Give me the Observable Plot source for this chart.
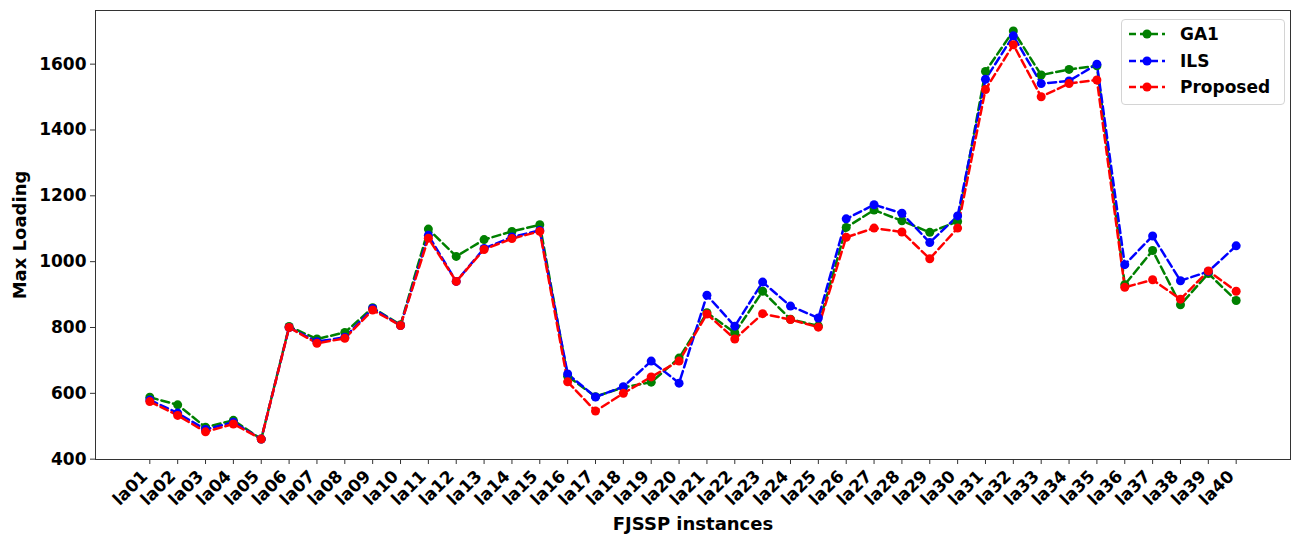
<!DOCTYPE html>
<html>
<head>
<meta charset="utf-8">
<script src="https://cdn.jsdelivr.net/npm/d3@7"></script>
<script src="https://cdn.jsdelivr.net/npm/@observablehq/plot@0.6"></script>
<style>
  html, body { margin: 0; padding: 0; background: #fff; }
  #wrap { position: relative; width: 1300px; height: 537px; font-family: "DejaVu Sans", sans-serif; }
  #legend { position: absolute; left: 1121px; top: 19px; width: 164px; height: 86px; border: 1px solid #d4d4d4; border-radius: 4px; background: rgba(255,255,255,0.85); box-sizing: border-box; padding-top: 1px; }
  .row { display: flex; align-items: center; height: 26.5px; font-weight: bold; font-size: 17px; color: #000; }
  .row svg { margin-left: 6px; margin-right: 14px; }
</style>
</head>
<body>
<div id="wrap"></div>
<script>
const instances = Array.from({length: 40}, (_, i) => "la" + String(i + 1).padStart(2, "0"));
const seriesNames = ["GA1", "ILS", "Proposed"];
const seriesColors = ["#008000", "#0000ff", "#ff0000"];
const GA1 = [588,565,497,518,461,803,765,785,860,808,1099,1016,1067,1092,1112,652,590,618,634,707,845,784,910,825,805,1104,1157,1124,1089,1122,1578,1701,1567,1584,1595,930,1034,869,964,882];
const ILS = [580,540,490,512,461,800,757,770,858,806,1080,940,1040,1075,1095,659,589,620,698,631,898,804,938,865,829,1130,1173,1147,1058,1139,1554,1686,1541,1549,1600,991,1078,942,970,1048];
const Proposed = [575,533,483,507,461,800,752,767,853,806,1071,940,1037,1070,1092,635,546,600,650,698,841,765,842,824,801,1074,1102,1090,1009,1102,1523,1659,1501,1541,1552,922,945,886,972,910];
const yTicks = [400, 600, 800, 1000, 1200, 1400, 1600];

const valuesBySeries = [GA1, ILS, Proposed];
const data = [];
seriesNames.forEach((s, si) => {
  valuesBySeries[si].forEach((v, i) => data.push({series: s, inst: instances[i], value: v}));
});

const chart = Plot.plot({
  width: 1300,
  height: 537,
  marginLeft: 95,
  marginRight: 10,
  marginTop: 10,
  marginBottom: 78,
  style: {fontFamily: "DejaVu Sans, sans-serif", fontWeight: "bold", fontSize: "17px", color: "#000", background: "#fff"},
  x: {type: "point", domain: instances, padding: 1.95},
  y: {domain: [399, 1763]},
  color: {domain: seriesNames, range: seriesColors},
  marks: [
    Plot.frame({stroke: "#333", strokeWidth: 1}),
    Plot.axisY({ticks: yTicks, tickFormat: d3.format("d"), tickSize: 5, tickPadding: 4, stroke: "#333", fontSize: 17, fontWeight: "bold",
      label: "Max Loading", labelAnchor: "center", labelArrow: "none", labelOffset: 82}),
    Plot.axisX({tickSize: 5, tickPadding: 2, tickRotate: -45, stroke: "#333", fontSize: 17, fontWeight: "bold",
      label: "FJSSP instances", labelAnchor: "center", labelArrow: "none", labelOffset: 70}),
    Plot.lineY(data, {x: "inst", y: "value", z: "series", stroke: "series", strokeWidth: 2.5, strokeDasharray: "8,4"}),
    Plot.dot(data, {x: "inst", y: "value", fill: "series", r: 4.5, stroke: "none"})
  ]
});
chart.querySelectorAll('[aria-label="y-axis label"] text, [aria-label="x-axis label"] text').forEach(t => { t.style.fontSize = "18px"; });
chart.querySelectorAll('[aria-label="x-axis tick label"] text').forEach(t => {
  const tr = t.getAttribute("transform") || "";
  t.setAttribute("transform", "translate(-5,7) " + tr);
});
const wrap = document.getElementById("wrap");
wrap.appendChild(chart);

const legend = document.createElement("div");
legend.id = "legend";
seriesNames.forEach((s, i) => {
  const row = document.createElement("div");
  row.className = "row";
  row.innerHTML = `<svg width="38" height="12"><line x1="1" x2="37" y1="6" y2="6" stroke="${seriesColors[i]}" stroke-width="2.5" stroke-dasharray="7,4"/><circle cx="19" cy="6" r="4.5" fill="${seriesColors[i]}"/></svg><span>${s}</span>`;
  legend.appendChild(row);
});
wrap.appendChild(legend);
</script>
</body>
</html>
